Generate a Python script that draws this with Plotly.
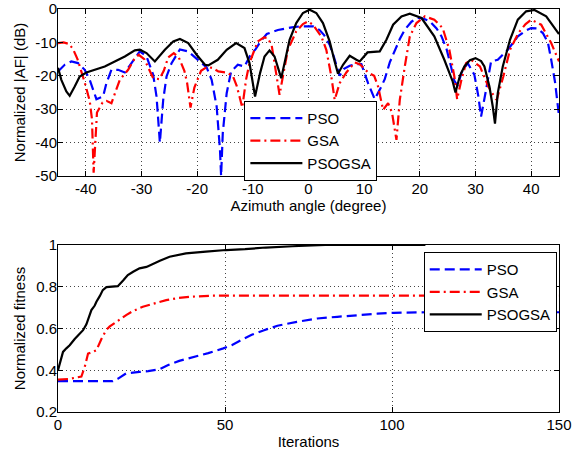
import plotly.graph_objects as go

# ---------------- data: top panel (array factor) ----------------
az_pso = [-45, -43.8, -42.6, -41.4, -40.2, -39.3, -38.1, -36.9, -36.3, -35.4, -34.2, -33.0, -31.8, -30.3,
          -29.1, -27.9, -27.3, -26.7, -26.1, -25.5, -24.6, -23.1, -21.6, -19.8, -18.3, -17.4, -16.5,
          -15.9, -15.7, -15.4, -14.7, -13.9, -12.7, -11.5, -10.5, -9.5, -8.5, -7.5, -5.5, -3.0, -1.5,
          0.8, 2.0, 2.8, 3.8, 4.5, 5.0, 5.6, 6.3, 7.4, 8.5, 9.5, 10.7, 11.9, 13.0, 13.7, 14.6, 15.5,
          16.4, 17.3, 18.5, 19.6, 20.5, 21.8, 23.0, 23.9, 24.8, 25.6, 26.2, 26.8, 27.5, 28.6, 29.8,
          30.5, 31.0, 31.9, 32.8, 34.0, 35.8, 37.6, 39.0, 40.0, 41.0, 42.1, 43.0, 43.6, 44.3, 45]
af_pso = [-18.7, -16.7, -15.7, -16.2, -18.2, -21.2, -27.0, -26.2, -22.2, -18.2, -18.2, -19.0, -16.2, -12.7,
          -14.2, -19.7, -26.2, -40.0, -27.2, -20.2, -16.2, -12.1, -12.7, -15.2, -17.5, -21.2, -29.2,
          -42.2, -50.0, -37.2, -25.2, -18.7, -16.7, -17.2, -14.0, -12.0, -9.5, -7.5, -6.3, -5.5, -5.2,
          -5.2, -6.3, -7.8, -10.7, -14.0, -16.5, -20.0, -18.0, -17.0, -16.5, -16.5, -22.2, -27.0, -23.5,
          -21.0, -16.0, -12.2, -9.0, -6.2, -3.8, -2.7, -2.8, -3.7, -5.8, -8.2, -12.0, -17.2, -21.5,
          -23.0, -19.0, -16.2, -19.7, -26.0, -32.2, -24.2, -15.7, -15.2, -12.2, -8.2, -6.5, -5.7, -5.8,
          -7.2, -10.0, -15.2, -22.0, -32.0]

az_gsa = [-45, -44, -43, -42.3, -41.5, -41, -40.2, -39.3, -38.9, -38.6, -38.3, -38, -37, -36.3, -35.4,
          -34.5, -33.9, -32.4, -31.3, -30.5, -29.5, -28.8, -27.9, -26.8, -26, -25.2, -24.2, -23.3,
          -22.3, -21.8, -21.2, -20.5, -19.3, -18.2, -17.2, -16.2, -14.8, -13.6, -12.9, -12.4, -11.9,
          -11.2, -10.6, -9.7, -9.1, -8.0, -7.3, -6.6, -6.2, -5.8, -5.2, -4.6, -3.7, -2.2, -1.0, -0.1,
          0.8, 2.3, 3.2, 4.1, 4.7, 5.6, 6.8, 8.3, 9.2, 10.7, 11.8, 12.5, 13.4, 14.3, 15.0, 15.8, 16.4,
          17.3, 18.2, 19.4, 20.9, 22.6, 24.1, 25.3, 26.2, 26.7, 27.5, 28.3, 29.2, 30.8, 32.3, 33.3,
          33.8, 35.0, 36.2, 37.7, 39.0, 40.0, 41.8, 43.6, 45]
af_gsa = [-10.2, -10.0, -10.5, -12.0, -15.0, -17.5, -22.0, -27.5, -33.0, -49.0, -38.0, -31.0, -28.0,
          -27.5, -28.2, -24.0, -21.2, -18.2, -15.0, -13.7, -15.0, -17.5, -20.7, -21.0, -18.5, -14.5,
          -13.2, -14.5, -18.5, -22.2, -29.5, -23.5, -18.5, -17.3, -17.7, -18.7, -19.0, -20.0, -23.0,
          -26.2, -29.5, -21.0, -16.2, -12.2, -9.7, -8.5, -8.7, -11.0, -15.0, -20.2, -25.7, -20.2,
          -12.2, -6.7, -4.5, -3.7, -4.7, -8.2, -12.2, -20.2, -27.2, -22.2, -19.0, -16.0, -16.5,
          -19.0, -20.0, -23.2, -30.2, -28.2, -31.0, -39.2, -27.2, -17.2, -8.2, -4.2, -2.2, -3.2,
          -5.7, -12.2, -20.2, -27.0, -21.0, -16.2, -15.2, -17.2, -23.2, -26.0, -27.2, -20.2, -12.2,
          -7.2, -4.5, -3.2, -4.7, -10.2, -15.7]

az_psogsa = [-45, -44.4, -43.5, -42.9, -42.0, -41.1, -39.9, -38.4, -36.6, -34.8, -33.0, -31.2, -30.3,
             -29.1, -27.6, -25.8, -24.3, -23.1, -21.6, -20.1, -18.6, -18.0, -16.3, -14.7, -13.0, -11.5,
             -10.6, -9.6, -8.7, -7.9, -7.0, -6.1, -5.2, -4.9, -4.3, -3.4, -2.2, -1.0, 0.2, 1.4, 2.6, 3.8,
             4.7, 5.3, 6.2, 7.4, 8.6, 9.2, 10.6, 12.8, 14.0, 15.2, 16.7, 18.2, 20.3, 22.6, 24.4, 25.9,
             26.4, 27.2, 28.0, 29.0, 30.0, 31.0, 31.6, 32.5, 33.1, 33.5, 34.0, 34.9, 36.2, 37.6, 39.1,
             40.6, 42.7, 45]
af_psogsa = [-17.6, -21.2, -24.7, -26.0, -23.2, -20.2, -19.0, -18.2, -17.2, -15.7, -14.2, -12.4, -12.2,
             -13.2, -15.7, -12.2, -9.7, -9.0, -10.2, -13.7, -16.7, -16.9, -15.2, -12.2, -10.2, -11.7,
             -16.2, -26.2, -19.2, -14.2, -12.4, -14.2, -19.2, -20.7, -16.2, -9.2, -4.2, -1.2, -0.2, -1.2,
             -4.2, -9.7, -15.7, -19.4, -16.7, -14.0, -15.2, -15.7, -13.0, -12.7, -9.2, -4.7, -2.2, -1.4,
             -2.7, -8.2, -15.2, -21.7, -25.0, -20.0, -17.2, -15.3, -14.7, -15.6, -17.2, -23.2, -29.2,
             -34.3, -25.2, -17.2, -9.2, -3.2, -0.7, -0.3, -2.2, -7.5]

# ---------------- data: bottom panel (convergence) ----------------
it_pso = [0, 16.4, 18, 20.4, 24.4, 27, 30.4, 33, 36.3, 40, 42.3, 45, 49.5, 52, 55.7, 58, 61.7, 65.7,
          71.5, 77.6, 83.6, 89.6, 95.6, 100.5, 110, 150]
fit_pso = [0.348, 0.348, 0.36, 0.385, 0.392, 0.396, 0.405, 0.425, 0.445, 0.46, 0.472, 0.482, 0.505,
           0.52, 0.552, 0.57, 0.592, 0.613, 0.632, 0.648, 0.656, 0.665, 0.671, 0.675, 0.678, 0.678]

it_gsa = [0, 3, 5.5, 7, 8, 9, 10, 11.5, 13, 14.4, 15.5, 17.4, 20.4, 22.5, 25.4, 28, 32.4, 36, 39.3,
          46, 52, 150]
fit_gsa = [0.355, 0.358, 0.365, 0.37, 0.416, 0.48, 0.485, 0.496, 0.55, 0.592, 0.61, 0.632, 0.664,
           0.684, 0.704, 0.716, 0.736, 0.746, 0.752, 0.757, 0.758, 0.758]

it_psogsa = [0, 0.5, 1, 1.5, 2.5, 3.5, 5, 6, 7.5, 8.5, 9, 10, 11, 11.5, 12.5, 13.4, 14.5, 15.4, 17.9,
             19.5, 20.9, 22.5, 24.4, 26.5, 28.4, 30.5, 33.4, 35.8, 38.3, 44.3, 50.3, 56, 62.2, 70.2,
             75, 80, 110]
fit_psogsa = [0.40, 0.43, 0.46, 0.488, 0.505, 0.52, 0.55, 0.568, 0.592, 0.62, 0.64, 0.688, 0.71,
              0.728, 0.755, 0.784, 0.798, 0.80, 0.803, 0.83, 0.856, 0.872, 0.888, 0.895, 0.91, 0.925,
              0.944, 0.952, 0.96, 0.968, 0.976, 0.98, 0.988, 0.994, 0.998, 1.0, 1.0]

# ---------------- tick labels ----------------
top_xticks = [-40, -30, -20, -10, 0, 10, 20, 30, 40]
top_xlabels = ["-40", "-30", "-20", "-10", "0", "10", "20", "30", "40"]
top_yticks = [-50, -40, -30, -20, -10, 0]
top_ylabels = ["-50", "-40", "-30", "-20", "-10", "0"]
bot_xticks = [0, 50, 100, 150]
bot_xlabels = ["0", "50", "100", "150"]
bot_yticks = [0.2, 0.4, 0.6, 0.8, 1.0]
bot_ylabels = ["0.2", "0.4", "0.6", "0.8", "1"]

names = ["PSO", "GSA", "PSOGSA"]

# ---------------- styles ----------------
FONT = "Liberation Sans, Arial, sans-serif"
styles = [dict(color="#0000FF", width=2.2, dash="10px,5px"),
          dict(color="#FF0000", width=2.2, dash="10px,4px,2px,4px"),
          dict(color="#000000", width=2.2)]

fig = go.Figure()
top = [(az_pso, af_pso), (az_gsa, af_gsa), (az_psogsa, af_psogsa)]
bot = [(it_pso, fit_pso), (it_gsa, fit_gsa), (it_psogsa, fit_psogsa)]
for (x, y), nm, st in zip(top, names, styles):
    fig.add_trace(go.Scatter(x=x, y=y, name=nm, mode="lines", line=st, cliponaxis=True,
                             xaxis="x", yaxis="y", legend="legend"))
for (x, y), nm, st in zip(bot, names, styles):
    fig.add_trace(go.Scatter(x=x, y=y, name=nm, mode="lines", line=st, cliponaxis=True,
                             xaxis="x2", yaxis="y2", legend="legend2"))

axis_common = dict(showline=True, linecolor="black", linewidth=1, mirror="ticks",
                   ticks="inside", ticklen=5, tickcolor="black", automargin=False,
                   ticklabeloverflow="allow",
                   showgrid=True, gridcolor="#444444", gridwidth=1, griddash="1px,3px",
                   zeroline=False, tickfont=dict(family=FONT, size=15, color="black"),
                   title_font=dict(family=FONT, size=15, color="black"))

leg_common = dict(xanchor="left", yanchor="top", bgcolor="white",
                  bordercolor="black", borderwidth=1, font=dict(family=FONT, size=15, color="black"),
                  itemwidth=52, tracegroupgap=0)

fig.update_layout(
    width=572, height=456,
    margin=dict(l=58, r=13, t=9, b=44),
    paper_bgcolor="white", plot_bgcolor="white",
    font=dict(family=FONT, size=15, color="black"),
    xaxis=dict(domain=[0, 1], range=[-45, 45], anchor="y", tickvals=top_xticks, ticktext=top_xlabels,
               title=dict(text="Azimuth angle (degree)", standoff=4), ticklabelstandoff=-1, **axis_common),
    yaxis=dict(domain=[0.5856, 1], range=[-50, 0.0001], anchor="x", tickvals=top_yticks, ticktext=top_ylabels,
               title=dict(text="Normalized |AF| (dB)", standoff=6), ticklabelstandoff=-3, **axis_common),
    xaxis2=dict(domain=[0, 1], range=[0, 150.0001], anchor="y2", tickvals=bot_xticks, ticktext=bot_xlabels,
                title=dict(text="Iterations", standoff=4), ticklabelstandoff=-1, **axis_common),
    yaxis2=dict(domain=[0, 0.4144], range=[0.2, 1.0001], anchor="x2", tickvals=bot_yticks, ticktext=bot_ylabels,
                title=dict(text="Normalized fitness", standoff=6), ticklabelstandoff=-3, **axis_common),
    legend=dict(x=0.372, y=0.772, **leg_common),
    legend2=dict(x=0.730, y=0.3965, **leg_common),
    showlegend=True,
)

fig.write_html("out.html", config={"displayModeBar": False},
               post_script="document.body.style.margin='0';document.body.style.padding='0';"
                           "document.body.style.overflow='hidden';")
